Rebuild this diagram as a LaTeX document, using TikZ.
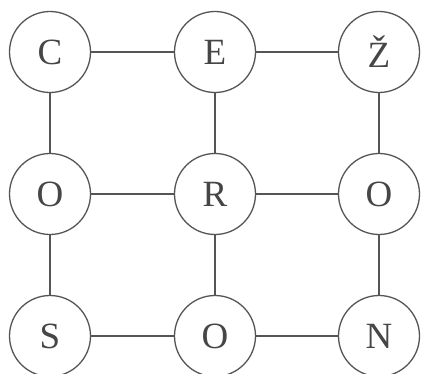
\documentclass[tikz,border=0pt]{standalone}
\usepackage{fontspec}
\setmainfont{Liberation Serif}
\definecolor{ink}{RGB}{85,85,85}
\definecolor{txt}{RGB}{70,70,70}
\begin{document}
\begin{tikzpicture}[x=1pt,y=1pt,
  letter/.style={circle,draw=ink,line width=1.3pt,minimum size=81pt,inner sep=0pt,
    text=txt,font=\fontsize{37}{40}\selectfont},
  link/.style={draw=ink,line width=1.3pt}]
\useasboundingbox[fill=white] (0,0) rectangle (425,-374);
\node[letter] (c)  at (50,-52)  {C};
\node[letter] (e)  at (215,-52) {E};
\node[letter] (z)  at (379,-52) {Ž};
\node[letter] (o1) at (50,-194) {O};
\node[letter] (r)  at (215,-194) {R};
\node[letter] (o2) at (379,-194) {O};
\node[letter] (s)  at (50,-336) {S};
\node[letter] (o3) at (215,-336) {O};
\node[letter] (n)  at (379,-336) {N};
\draw[link] (c) -- (e);
\draw[link] (e) -- (z);
\draw[link] (o1) -- (r);
\draw[link] (r) -- (o2);
\draw[link] (s) -- (o3);
\draw[link] (o3) -- (n);
\draw[link] (c) -- (o1);
\draw[link] (o1) -- (s);
\draw[link] (e) -- (r);
\draw[link] (r) -- (o3);
\draw[link] (z) -- (o2);
\draw[link] (o2) -- (n);
\end{tikzpicture}
\end{document}
